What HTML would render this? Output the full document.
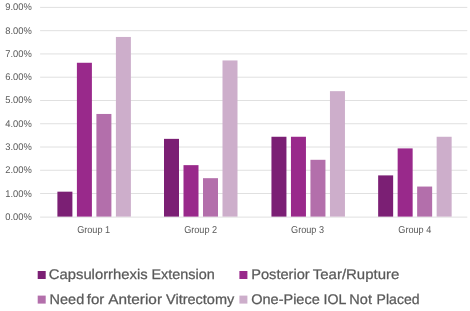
<!DOCTYPE html>
<html><head><meta charset="utf-8"><title>Chart</title>
<style>
html,body{margin:0;padding:0;background:#fff;}
body{width:470px;height:311px;overflow:hidden;}
svg{display:block;}
text{font-family:"Liberation Sans",sans-serif;fill:#595959;text-rendering:geometricPrecision;}
.ax{font-size:9.7px;}
.gl{font-size:10px;}
.lg{font-size:14px;stroke:#595959;stroke-width:0.25px;}
</style></head><body>
<svg width="470" height="311" viewBox="0 0 470 311">
<rect width="470" height="311" fill="#ffffff"/>
<line x1="40.1" x2="467.3" y1="217.10" y2="217.10" stroke="#e0e0e0" stroke-width="1"/>
<line x1="40.1" x2="467.3" y1="193.53" y2="193.53" stroke="#e0e0e0" stroke-width="1"/>
<line x1="40.1" x2="467.3" y1="170.27" y2="170.27" stroke="#e0e0e0" stroke-width="1"/>
<line x1="40.1" x2="467.3" y1="147.00" y2="147.00" stroke="#e0e0e0" stroke-width="1"/>
<line x1="40.1" x2="467.3" y1="123.73" y2="123.73" stroke="#e0e0e0" stroke-width="1"/>
<line x1="40.1" x2="467.3" y1="100.47" y2="100.47" stroke="#e0e0e0" stroke-width="1"/>
<line x1="40.1" x2="467.3" y1="77.20" y2="77.20" stroke="#e0e0e0" stroke-width="1"/>
<line x1="40.1" x2="467.3" y1="53.93" y2="53.93" stroke="#e0e0e0" stroke-width="1"/>
<line x1="40.1" x2="467.3" y1="30.67" y2="30.67" stroke="#e0e0e0" stroke-width="1"/>
<line x1="40.1" x2="467.3" y1="7.40" y2="7.40" stroke="#e0e0e0" stroke-width="1"/>
<text class="ax" x="5.3" y="219.80" textLength="26.5" lengthAdjust="spacingAndGlyphs">0.00%</text>
<text class="ax" x="5.3" y="196.53" textLength="26.5" lengthAdjust="spacingAndGlyphs">1.00%</text>
<text class="ax" x="5.3" y="173.27" textLength="26.5" lengthAdjust="spacingAndGlyphs">2.00%</text>
<text class="ax" x="5.3" y="150.00" textLength="26.5" lengthAdjust="spacingAndGlyphs">3.00%</text>
<text class="ax" x="5.3" y="126.73" textLength="26.5" lengthAdjust="spacingAndGlyphs">4.00%</text>
<text class="ax" x="5.3" y="103.47" textLength="26.5" lengthAdjust="spacingAndGlyphs">5.00%</text>
<text class="ax" x="5.3" y="80.20" textLength="26.5" lengthAdjust="spacingAndGlyphs">6.00%</text>
<text class="ax" x="5.3" y="56.93" textLength="26.5" lengthAdjust="spacingAndGlyphs">7.00%</text>
<text class="ax" x="5.3" y="33.67" textLength="26.5" lengthAdjust="spacingAndGlyphs">8.00%</text>
<text class="ax" x="5.3" y="10.40" textLength="26.5" lengthAdjust="spacingAndGlyphs">9.00%</text>
<rect x="57.40" y="191.67" width="15.0" height="24.93" fill="#7b1f74"/>
<rect x="76.90" y="62.77" width="15.0" height="153.83" fill="#99298b"/>
<rect x="96.40" y="113.96" width="15.0" height="102.64" fill="#b36fab"/>
<rect x="115.90" y="36.95" width="15.0" height="179.65" fill="#cdaecb"/>
<text class="gl" x="93.65" y="232.8" text-anchor="middle" textLength="33" lengthAdjust="spacingAndGlyphs">Group 1</text>
<rect x="164.00" y="138.86" width="15.0" height="77.74" fill="#7b1f74"/>
<rect x="183.50" y="165.15" width="15.0" height="51.45" fill="#99298b"/>
<rect x="203.00" y="178.18" width="15.0" height="38.42" fill="#b36fab"/>
<rect x="222.50" y="60.45" width="15.0" height="156.15" fill="#cdaecb"/>
<text class="gl" x="200.65" y="232.8" text-anchor="middle" textLength="33" lengthAdjust="spacingAndGlyphs">Group 2</text>
<rect x="271.45" y="136.76" width="15.0" height="79.84" fill="#7b1f74"/>
<rect x="290.95" y="136.76" width="15.0" height="79.84" fill="#99298b"/>
<rect x="310.45" y="159.80" width="15.0" height="56.80" fill="#b36fab"/>
<rect x="329.95" y="91.16" width="15.0" height="125.44" fill="#cdaecb"/>
<text class="gl" x="307.55" y="232.8" text-anchor="middle" textLength="33" lengthAdjust="spacingAndGlyphs">Group 3</text>
<rect x="378.15" y="175.39" width="15.0" height="41.21" fill="#7b1f74"/>
<rect x="397.65" y="148.40" width="15.0" height="68.20" fill="#99298b"/>
<rect x="417.15" y="186.55" width="15.0" height="30.05" fill="#b36fab"/>
<rect x="436.65" y="136.76" width="15.0" height="79.84" fill="#cdaecb"/>
<text class="gl" x="414.80" y="232.8" text-anchor="middle" textLength="33" lengthAdjust="spacingAndGlyphs">Group 4</text>
<rect x="37.7" y="271" width="8" height="8" fill="#7b1f74"/>
<rect x="239.4" y="271" width="8" height="8" fill="#99298b"/>
<rect x="37.7" y="295.6" width="8" height="8" fill="#b36fab"/>
<rect x="239.4" y="295.6" width="8" height="8" fill="#cdaecb"/>
<text class="lg" y="278.9"><tspan x="48.8" textLength="98.8" lengthAdjust="spacingAndGlyphs">Capsulorrhexis</tspan> <tspan x="151.46" textLength="63.34" lengthAdjust="spacingAndGlyphs">Extension</tspan></text>
<text class="lg" y="278.9"><tspan x="251.2" textLength="58.56" lengthAdjust="spacingAndGlyphs">Posterior</tspan> <tspan x="312.76" textLength="86.57" lengthAdjust="spacingAndGlyphs">Tear/Rupture</tspan></text>
<text class="lg" y="303.75"><tspan x="49.59" textLength="34.62" lengthAdjust="spacingAndGlyphs">Need</tspan> <tspan x="86.69" textLength="17.61" lengthAdjust="spacingAndGlyphs">for</tspan> <tspan x="108.19" textLength="53.82" lengthAdjust="spacingAndGlyphs">Anterior</tspan> <tspan x="166.0" textLength="68.3" lengthAdjust="spacingAndGlyphs">Vitrectomy</tspan></text>
<text class="lg" y="303.75"><tspan x="251.2" textLength="68.6" lengthAdjust="spacingAndGlyphs">One-Piece</tspan> <tspan x="323.62" textLength="22.3" lengthAdjust="spacingAndGlyphs">IOL</tspan> <tspan x="349.33" textLength="22.6" lengthAdjust="spacingAndGlyphs">Not</tspan> <tspan x="376.62" textLength="42.96" lengthAdjust="spacingAndGlyphs">Placed</tspan></text>
</svg></body></html>
